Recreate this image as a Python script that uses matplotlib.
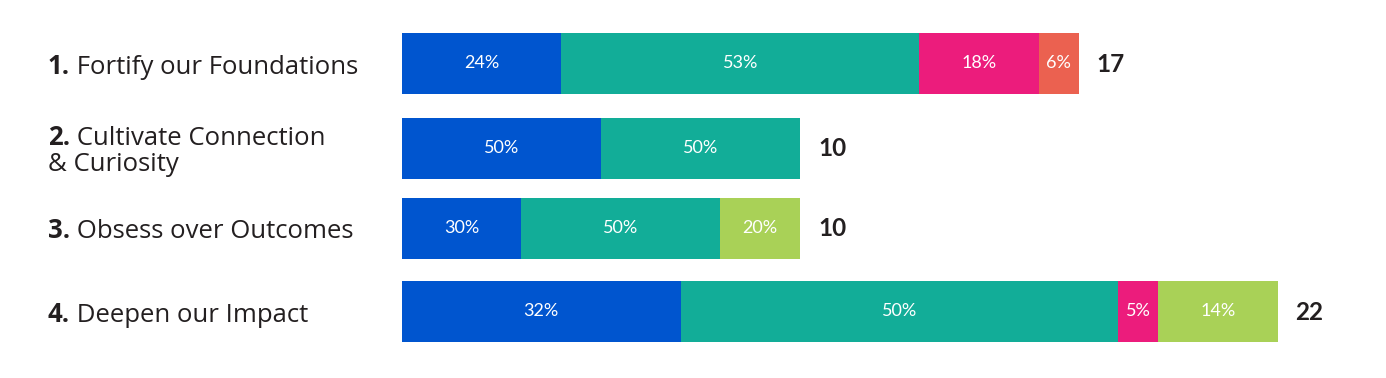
import matplotlib
matplotlib.use("Agg")
import matplotlib.pyplot as plt
import numpy as np

# ---- data ----
numbers = ["1.", "2.", "3.", "4."]
label_lines = [["Fortify our Foundations"],
               ["Cultivate Connection", "& Curiosity"],
               ["Obsess over Outcomes"],
               ["Deepen our Impact"]]
totals = [17, 10, 10, 22]
# segment counts per bar, in stacking order
segments = [
    [4, 9, 3, 1],
    [5, 5],
    [3, 5, 2],
    [7, 11, 1, 3],
]
seg_pcts = [
    ["24%", "53%", "18%", "6%"],
    ["50%", "50%"],
    ["30%", "50%", "20%"],
    ["32%", "50%", "5%", "14%"],
]
seg_colors = [
    ["#0055CF", "#12AD98", "#EC1C7C", "#EB6150"],
    ["#0055CF", "#12AD98"],
    ["#0055CF", "#12AD98", "#A9D157"],
    ["#0055CF", "#12AD98", "#EC1C7C", "#A9D157"],
]

# ---- layout ----
W, H = 1386, 378
dpi = 100
x0_px = 402.0          # pixel where bars start
px_per_unit = 39.8
label_px = 48.0
y_centers = [63.5, 148, 228, 311.5]   # pixel rows of bar centers
bar_h = 61

plt.rcParams['font.family'] = ['Lato', 'DejaVu Sans']
fig = plt.figure(figsize=(W / dpi, H / dpi), dpi=dpi)
ax = fig.add_axes([0, 0, 1, 1])
ax.set_xlim(-x0_px / px_per_unit, (W - x0_px) / px_per_unit)
ax.set_ylim(H, 0)
ax.axis('off')

text_col = "#231F20"
label_font = ['Open Sans', 'DejaVu Sans']
label_size = 18.5
label_x = (label_px - x0_px) / px_per_unit

for i in range(len(totals)):
    yc = y_centers[i]
    left = 0
    for v, p, c in zip(segments[i], seg_pcts[i], seg_colors[i]):
        ax.barh(yc, v, left=left, height=bar_h, color=c, edgecolor='none')
        ax.text(left + v / 2, yc, p, ha='center', va='center',
                color='white', fontsize=13)
        left += v
    ax.text(left + 18 / px_per_unit, yc + 1, str(totals[i]), ha='left',
            va='center', fontsize=17.5, fontweight='bold', color=text_col)

    lines = label_lines[i]
    n = len(lines)
    spacing = 27
    first_y = yc - (n - 1) * spacing / 2
    num = ax.text(label_x, first_y, numbers[i], ha='left', va='center_baseline',
                  fontsize=label_size, fontweight='bold', color=text_col,
                  family=label_font)
    ax.annotate(" " + lines[0], xy=(1, 0), xycoords=num,
                ha='left', va='bottom', fontsize=label_size, color=text_col,
                family=label_font)
    for k in range(1, n):
        ax.text(label_x, first_y + k * spacing, lines[k], ha='left',
                va='center_baseline', fontsize=label_size, color=text_col,
                family=label_font)

fig.savefig("out.png", dpi=dpi, facecolor='white')
